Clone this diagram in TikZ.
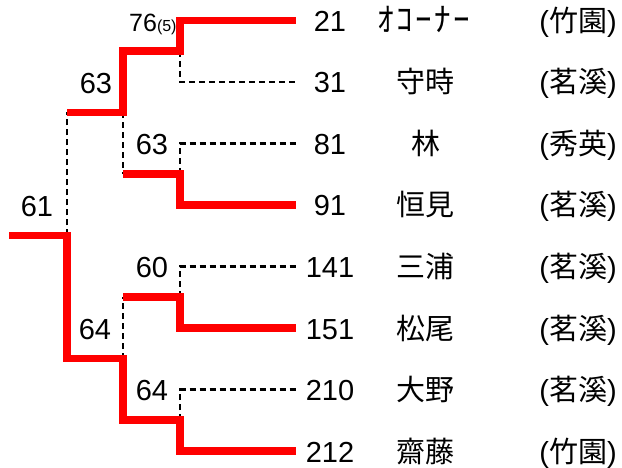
\documentclass[tikz,border=0pt]{standalone}
\usepackage{fontspec}
\setmainfont{Liberation Sans}
\newfontfamily\jp{Noto Sans CJK JP}
\begin{document}
\begin{tikzpicture}[x=1pt,y=-1pt,
  win/.style={draw=red,line width=7.5pt,line join=miter},
  lose/.style={draw=black,line width=2.4pt,dash pattern=on 6pt off 4pt},
  num/.style={anchor=base,inner sep=0pt,font=\fontsize{29}{34}\selectfont},
  nm/.style={anchor=base,inner sep=0pt,font=\jp\fontsize{29}{34}\selectfont},
  sc/.style={anchor=base,inner sep=0pt,font=\fontsize{29}{34}\selectfont},
  score/.style={anchor=base,inner sep=0pt,font=\fontsize{29}{34}\selectfont}]
\useasboundingbox (0,0) rectangle (622,468);
% entry ends
\coordinate (e1) at (296,20.5);
\coordinate (e2) at (296,82);
\coordinate (e3) at (296,143.5);
\coordinate (e4) at (296,205);
\coordinate (e5) at (296,266.5);
\coordinate (e6) at (296,328);
\coordinate (e7) at (296,389.5);
\coordinate (e8) at (296,451);
% rounds
\coordinate (a1) at (180,51);
\coordinate (a2) at (180,174);
\coordinate (a3) at (180,297);
\coordinate (a4) at (180,420);
\coordinate (b1) at (123,112.5);
\coordinate (b2) at (123,358.5);
\coordinate (c) at (67,235.5);
\coordinate (root) at (9,235.5);
% losing lines
\draw[lose] (c) -- (c |- b1);
\draw[lose] (b1) -- (b1 |- a2);
\draw[lose] (b2) -- (b2 |- a3);
\draw[lose] (a1) -- (a1 |- e2) -- (e2);
\draw[lose] (a2) -- (a2 |- e3) -- (e3);
\draw[lose] (a3) -- (a3 |- e5) -- (e5);
\draw[lose] (a4) -- (a4 |- e7) -- (e7);
% winning lines
\draw[win] (root) -- (c) -- (c |- b2) -- (b2) -- (b2 |- a4) -- (a4) -- (a4 |- e8) -- (e8);
\draw[win] (c |- b1) -- (b1) -- (b1 |- a1) -- (a1) -- (a1 |- e1) -- (e1);
\draw[win] (b1 |- a2) -- (a2) -- (a2 |- e4) -- (e4);
\draw[win] (b2 |- a3) -- (a3) -- (a3 |- e6) -- (e6);
% scores
\node[anchor=base west,inner sep=0pt] (s76) at (129,32) {\fontsize{25}{30}\selectfont 76\fontsize{16}{19}\selectfont(5)};
\node[score] (s63a) at (96,93.5) {63};
\node[score] (s63b) at (152,154.5) {63};
\node[score] (s61) at (37,216.5) {61};
\node[score] (s60) at (152,277.5) {60};
\node[score] (s64a) at (95,339) {64};
\node[score] (s64b) at (152,400) {64};
% entries
\node[num] (n1) at (330,31.5) {21};
\node[num] (n2) at (330,93) {31};
\node[num] (n3) at (330,154.5) {81};
\node[num] (n4) at (330,216) {91};
\node[num] (n5) at (330,277.5) {141};
\node[num] (n6) at (330,339) {151};
\node[num] (n7) at (330,400.5) {210};
\node[num] (n8) at (330,462) {212};
\node[nm,font=\jp\fontsize{33}{36}\selectfont] (p1) at (424,31.5) {ｵ\hspace{2.5pt}ｺ\hspace{2.5pt}ｰ\hspace{2.5pt}ﾅ\hspace{2.5pt}ｰ};
\node[nm] (p2) at (425,93) {守時};
\node[nm] (p3) at (426,154.5) {林};
\node[nm] (p4) at (425,216) {恒見};
\node[nm] (p5) at (425,277.5) {三浦};
\node[nm] (p6) at (425,339) {松尾};
\node[nm] (p7) at (425,400.5) {大野};
\node[nm] (p8) at (425,462) {齋藤};
\node[sc] (q1) at (578,31.5) {({\jp 竹園})};
\node[sc] (q2) at (578,93) {({\jp 茗溪})};
\node[sc] (q3) at (578,154.5) {({\jp 秀英})};
\node[sc] (q4) at (578,216) {({\jp 茗溪})};
\node[sc] (q5) at (578,277.5) {({\jp 茗溪})};
\node[sc] (q6) at (578,339) {({\jp 茗溪})};
\node[sc] (q7) at (578,400.5) {({\jp 茗溪})};
\node[sc] (q8) at (578,462) {({\jp 竹園})};
\end{tikzpicture}
\end{document}
